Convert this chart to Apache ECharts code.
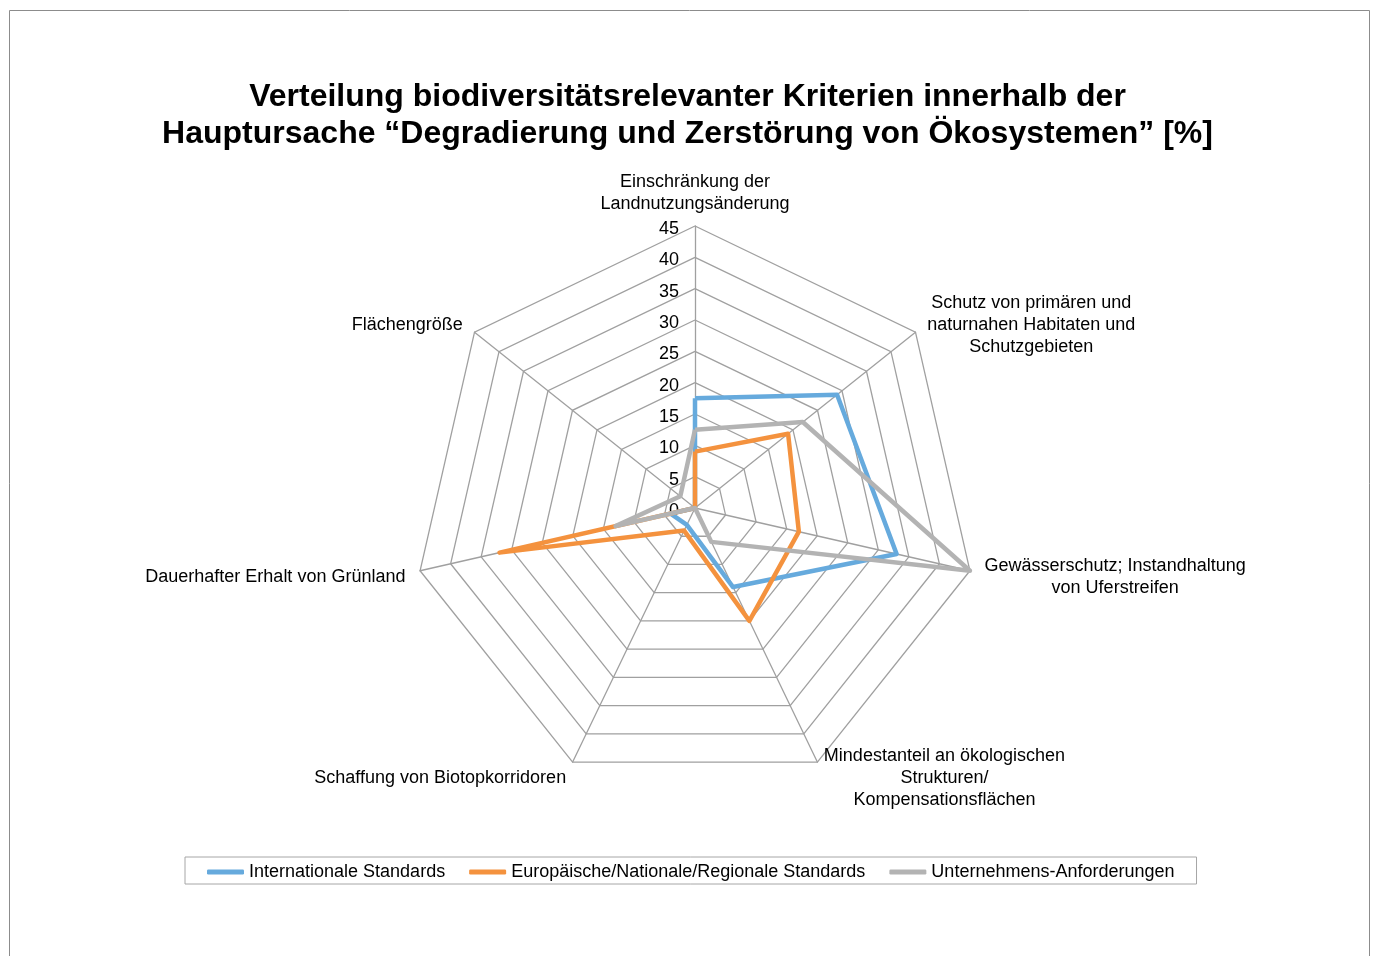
<!DOCTYPE html>
<html>
<head>
<meta charset="utf-8">
<script src="https://cdn.jsdelivr.net/npm/echarts@6/dist/echarts.min.js"></script>
<style>
html,body{margin:0;padding:0;background:#fff;}
#chart{width:1375px;height:956px;}
</style>
</head>
<body>
<div id="chart"></div>
<script>
// Categories in clockwise order starting at the top
var categories = [
  'Einschränkung der\nLandnutzungsänderung',
  'Schutz von primären und\nnaturnahen Habitaten und\nSchutzgebieten',
  'Gewässerschutz; Instandhaltung\nvon Uferstreifen',
  'Mindestanteil an ökologischen\nStrukturen/\nKompensationsflächen',
  'Schaffung von Biotopkorridoren',
  'Dauerhafter Erhalt von Grünland',
  'Flächengröße'
];
var seriesNames = [
  'Internationale Standards',
  'Europäische/Nationale/Regionale Standards',
  'Unternehmens-Anforderungen'
];
var internationalValues = [17.5, 29, 33, 14, 3, 4, 0];
var europeanValues      = [9, 19, 17, 20, 4, 32, 0];
var companyValues       = [12.5, 22, 45, 6, 0, 13, 3];
var axisMax = 45;
var axisSplits = 9;

var FONT = "'Liberation Sans', Arial, sans-serif";
var colors = ['#66aadd', '#f4923e', '#b3b3b3'];

// ECharts radar places indicators counter-clockwise; reorder to draw clockwise
var order = [0, 6, 5, 4, 3, 2, 1];
function reorder(arr) { return order.map(function (i) { return arr[i]; }); }

var indicators = reorder(categories).map(function (name, k) {
  var ind = { name: name, max: axisMax, min: 0 };
  if (k === 0) {
    ind.axisLabel = { show: true };
    ind.nameGap = 11;
  }
  return ind;
});

var allValues = [internationalValues, europeanValues, companyValues];

var chart = echarts.init(document.getElementById('chart'), null, { renderer: 'canvas' });
chart.setOption({
  animation: false,
  backgroundColor: '#fff',
  textStyle: { fontFamily: FONT },
  graphic: [{
    type: 'rect',
    shape: { x: 9.5, y: 10.5, width: 1360, height: 960 },
    style: { fill: 'none', stroke: '#8c8c8c', lineWidth: 1 },
    silent: true
  }],
  title: {
    text: 'Verteilung biodiversitätsrelevanter Kriterien innerhalb der\nHauptursache “Degradierung und Zerstörung von Ökosystemen” [%]',
    left: 'center',
    top: 79,
    padding: 0,
    textStyle: { fontFamily: FONT, fontSize: 32, fontWeight: 'bold', color: '#000', lineHeight: 37 }
  },
  legend: {
    data: seriesNames,
    left: 185,
    top: 857,
    orient: 'horizontal',
    icon: 'roundRect',
    itemWidth: 37,
    itemHeight: 5,
    itemGap: 24,
    padding: [6, 22, 3, 22],
    borderColor: '#a6a6a6',
    borderWidth: 1,
    textStyle: { fontFamily: FONT, fontSize: 18, color: '#000' }
  },
  radar: {
    center: [695, 508],
    radius: 282,
    startAngle: 90,
    shape: 'polygon',
    splitNumber: axisSplits,
    indicator: indicators,
    nameGap: 15,
    axisName: {
      color: '#000',
      fontFamily: FONT,
      fontSize: 18,
      padding: [5, 0, 0, 0],
      formatter: function (name) {
        return name.split('\n').map(function (l) { return '{c|' + l + '}'; }).join('\n');
      },
      rich: {
        c: { align: 'center', fontFamily: FONT, fontSize: 18, lineHeight: 22, color: '#000' }
      }
    },
    axisLine: { show: true, lineStyle: { color: '#a0a0a0', width: 1.3 } },
    splitLine: { show: true, lineStyle: { color: '#a0a0a0', width: 1.3 } },
    splitArea: { show: false },
    axisTick: { show: false },
    axisLabel: {
      show: false,
      margin: 16,
      color: '#000',
      fontFamily: FONT,
      fontSize: 18,
      formatter: '{v|{value}}',
      rich: {
        v: { fontFamily: FONT, fontSize: 18, color: '#000', padding: [6, 0, 0, 0] }
      },
      showMinLabel: true,
      showMaxLabel: true
    }
  },
  series: [{
    type: 'radar',
    symbol: 'none',
    data: allValues.map(function (vals, i) {
      return {
        name: seriesNames[i],
        value: reorder(vals),
        lineStyle: { color: colors[i], width: 4.5 },
        itemStyle: { color: colors[i] }
      };
    })
  }]
});
</script>
</body>
</html>
